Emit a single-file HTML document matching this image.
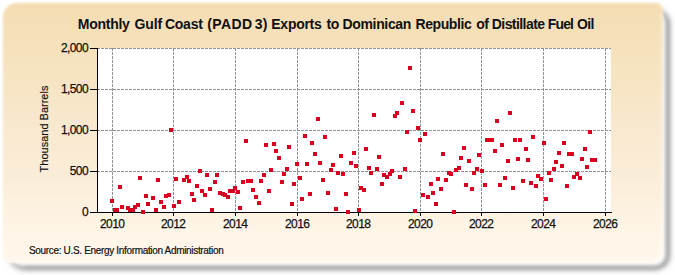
<!DOCTYPE html>
<html><head><meta charset="utf-8"><style>
html,body{margin:0;padding:0;background:#fff;}
body{width:675px;height:275px;position:relative;overflow:hidden;font-family:"Liberation Sans",sans-serif;}
#frame{position:absolute;left:3px;top:3px;width:660px;height:260px;border-radius:14px 7px 14px 7px;filter:blur(0.9px);
 background:linear-gradient(to bottom,rgb(244,221,178) 0%,rgb(245,222,180) 3%,rgb(246,226,190) 21%,rgb(249,233,208) 50%,rgb(251,238,218) 70%,rgb(255,246,232) 89%,rgb(255,247,236) 100%);
 box-shadow:inset -3px -3px 3px rgba(255,255,255,0.2);}
#shadow{position:absolute;left:9px;top:9px;width:660px;height:260px;border-radius:14px;box-sizing:border-box;
 border:3px solid rgba(90,90,90,0.75);box-shadow:0 0 4px 1px rgba(90,90,90,0.45);filter:blur(2.1px);}
#shwrap{position:absolute;left:0;top:0;width:675px;height:275px;-webkit-mask-image:linear-gradient(to right,rgba(0,0,0,0.35) 0px,#000 28px),linear-gradient(to bottom,rgba(0,0,0,0.35) 0px,#000 22px);-webkit-mask-composite:source-in;mask-composite:intersect;}
#title span{position:absolute;top:0;}
#title{position:absolute;left:0;top:16px;width:675px;font-weight:bold;font-size:14px;letter-spacing:-0.27px;color:#111;white-space:nowrap;}
#plot{position:absolute;left:97px;top:48px;width:514px;height:164px;background:#fff;}
svg{position:absolute;left:0;top:0;}
.yl{position:absolute;left:30px;width:58px;text-align:right;font-size:12px;letter-spacing:-0.6px;line-height:14px;color:#111;-webkit-text-stroke:0.25px #111;}
.xl{position:absolute;top:217px;width:40px;text-align:center;font-size:12px;letter-spacing:-0.6px;text-indent:-0.6px;line-height:14px;color:#111;-webkit-text-stroke:0.25px #111;}
#ytitle{position:absolute;left:44px;top:129px;transform:translate(-50%,-50%) rotate(-90deg);font-size:11px;line-height:12px;color:#111;-webkit-text-stroke:0.15px #111;white-space:nowrap;}
#src{position:absolute;left:29px;top:244.6px;font-size:10px;line-height:12px;color:#111;-webkit-text-stroke:0.2px #111;white-space:nowrap;letter-spacing:-0.33px;}
</style></head><body>
<div id="shwrap"><div id="shadow"></div></div>
<div id="frame"></div>
<div id="title"><span style="left:77.80px;letter-spacing:-0.27px">Monthly</span> <span style="left:134.50px;letter-spacing:-0.12px">Gulf</span> <span style="left:165.00px;letter-spacing:-0.27px">Coast</span> <span style="left:207.20px;letter-spacing:0.43px">(PADD</span> <span style="left:254.80px;letter-spacing:0.23px">3)</span> <span style="left:271.30px;letter-spacing:-0.27px">Exports</span> <span style="left:326.40px;letter-spacing:-0.27px">to</span> <span style="left:342.50px;letter-spacing:-0.34px">Dominican</span> <span style="left:415.50px;letter-spacing:-0.41px">Republic</span> <span style="left:476.20px;letter-spacing:-0.57px">of</span> <span style="left:491.80px;letter-spacing:-0.57px">Distillate</span> <span style="left:547.80px;letter-spacing:-0.87px">Fuel</span> <span style="left:576.90px;letter-spacing:-0.57px">Oil</span></div>
<div id="plot"></div>
<svg width="675" height="275" viewBox="0 0 675 275">
<g stroke="#939393" stroke-width="1" stroke-dasharray="3,1" shape-rendering="crispEdges">
<line x1="97" y1="48.5" x2="611" y2="48.5"/>
<line x1="97" y1="89.5" x2="611" y2="89.5"/>
<line x1="97" y1="130.5" x2="611" y2="130.5"/>
<line x1="97" y1="171.5" x2="611" y2="171.5"/>
<line x1="112.5" y1="48" x2="112.5" y2="212"/>
<line x1="173.5" y1="48" x2="173.5" y2="212"/>
<line x1="235.5" y1="48" x2="235.5" y2="212"/>
<line x1="297.5" y1="48" x2="297.5" y2="212"/>
<line x1="358.5" y1="48" x2="358.5" y2="212"/>
<line x1="420.5" y1="48" x2="420.5" y2="212"/>
<line x1="481.5" y1="48" x2="481.5" y2="212"/>
<line x1="543.5" y1="48" x2="543.5" y2="212"/>
<line x1="605.5" y1="48" x2="605.5" y2="212"/>
</g>
<g stroke="#000" stroke-width="1" shape-rendering="crispEdges">
<line x1="97.5" y1="48" x2="97.5" y2="213"/>
<line x1="90" y1="212.5" x2="612" y2="212.5"/>
<line x1="90" y1="48.5" x2="97" y2="48.5"/>
<line x1="90" y1="89.5" x2="97" y2="89.5"/>
<line x1="90" y1="130.5" x2="97" y2="130.5"/>
<line x1="90" y1="171.5" x2="97" y2="171.5"/>
<line x1="90" y1="212.5" x2="97" y2="212.5"/>
<line x1="112.5" y1="212" x2="112.5" y2="216"/>
<line x1="173.5" y1="212" x2="173.5" y2="216"/>
<line x1="235.5" y1="212" x2="235.5" y2="216"/>
<line x1="297.5" y1="212" x2="297.5" y2="216"/>
<line x1="358.5" y1="212" x2="358.5" y2="216"/>
<line x1="420.5" y1="212" x2="420.5" y2="216"/>
<line x1="481.5" y1="212" x2="481.5" y2="216"/>
<line x1="543.5" y1="212" x2="543.5" y2="216"/>
<line x1="605.5" y1="212" x2="605.5" y2="216"/>
</g>
<g fill="#d8001e" shape-rendering="crispEdges">
<rect x="110" y="199" width="4" height="4"/>
<rect x="113" y="208" width="4" height="4"/>
<rect x="115" y="208" width="4" height="4"/>
<rect x="118" y="185" width="4" height="4"/>
<rect x="120" y="205" width="4" height="4"/>
<rect x="126" y="206" width="4" height="4"/>
<rect x="128" y="208" width="4" height="4"/>
<rect x="131" y="208" width="4" height="4"/>
<rect x="133" y="205" width="4" height="4"/>
<rect x="136" y="203" width="4" height="4"/>
<rect x="138" y="176" width="4" height="4"/>
<rect x="141" y="210" width="4" height="4"/>
<rect x="144" y="194" width="4" height="4"/>
<rect x="146" y="202" width="4" height="4"/>
<rect x="151" y="196" width="4" height="4"/>
<rect x="154" y="208" width="4" height="4"/>
<rect x="156" y="178" width="4" height="4"/>
<rect x="159" y="200" width="4" height="4"/>
<rect x="162" y="205" width="4" height="4"/>
<rect x="164" y="194" width="4" height="4"/>
<rect x="167" y="193" width="4" height="4"/>
<rect x="169" y="128" width="4" height="4"/>
<rect x="172" y="204" width="4" height="4"/>
<rect x="174" y="177" width="4" height="4"/>
<rect x="177" y="200" width="4" height="4"/>
<rect x="182" y="178" width="4" height="4"/>
<rect x="185" y="175" width="4" height="4"/>
<rect x="187" y="179" width="4" height="4"/>
<rect x="190" y="192" width="4" height="4"/>
<rect x="192" y="198" width="4" height="4"/>
<rect x="195" y="184" width="4" height="4"/>
<rect x="198" y="169" width="4" height="4"/>
<rect x="200" y="189" width="4" height="4"/>
<rect x="203" y="193" width="4" height="4"/>
<rect x="205" y="173" width="4" height="4"/>
<rect x="208" y="187" width="4" height="4"/>
<rect x="210" y="208" width="4" height="4"/>
<rect x="213" y="180" width="4" height="4"/>
<rect x="215" y="173" width="4" height="4"/>
<rect x="218" y="191" width="4" height="4"/>
<rect x="221" y="192" width="4" height="4"/>
<rect x="223" y="193" width="4" height="4"/>
<rect x="226" y="195" width="4" height="4"/>
<rect x="228" y="189" width="4" height="4"/>
<rect x="231" y="189" width="4" height="4"/>
<rect x="233" y="186" width="4" height="4"/>
<rect x="236" y="190" width="4" height="4"/>
<rect x="238" y="206" width="4" height="4"/>
<rect x="241" y="180" width="4" height="4"/>
<rect x="244" y="139" width="4" height="4"/>
<rect x="246" y="179" width="4" height="4"/>
<rect x="249" y="179" width="4" height="4"/>
<rect x="251" y="188" width="4" height="4"/>
<rect x="254" y="195" width="4" height="4"/>
<rect x="257" y="201" width="4" height="4"/>
<rect x="259" y="179" width="4" height="4"/>
<rect x="262" y="173" width="4" height="4"/>
<rect x="264" y="143" width="4" height="4"/>
<rect x="267" y="189" width="4" height="4"/>
<rect x="269" y="168" width="4" height="4"/>
<rect x="272" y="142" width="4" height="4"/>
<rect x="274" y="149" width="4" height="4"/>
<rect x="277" y="156" width="4" height="4"/>
<rect x="280" y="180" width="4" height="4"/>
<rect x="282" y="172" width="4" height="4"/>
<rect x="285" y="167" width="4" height="4"/>
<rect x="287" y="145" width="4" height="4"/>
<rect x="290" y="202" width="4" height="4"/>
<rect x="292" y="182" width="4" height="4"/>
<rect x="295" y="162" width="4" height="4"/>
<rect x="298" y="176" width="4" height="4"/>
<rect x="300" y="197" width="4" height="4"/>
<rect x="303" y="134" width="4" height="4"/>
<rect x="305" y="162" width="4" height="4"/>
<rect x="308" y="192" width="4" height="4"/>
<rect x="310" y="141" width="4" height="4"/>
<rect x="313" y="152" width="4" height="4"/>
<rect x="316" y="117" width="4" height="4"/>
<rect x="318" y="161" width="4" height="4"/>
<rect x="321" y="178" width="4" height="4"/>
<rect x="323" y="135" width="4" height="4"/>
<rect x="326" y="191" width="4" height="4"/>
<rect x="329" y="168" width="4" height="4"/>
<rect x="331" y="163" width="4" height="4"/>
<rect x="334" y="207" width="4" height="4"/>
<rect x="336" y="171" width="4" height="4"/>
<rect x="339" y="154" width="4" height="4"/>
<rect x="341" y="172" width="4" height="4"/>
<rect x="344" y="192" width="4" height="4"/>
<rect x="346" y="210" width="4" height="4"/>
<rect x="349" y="161" width="4" height="4"/>
<rect x="352" y="151" width="4" height="4"/>
<rect x="354" y="164" width="4" height="4"/>
<rect x="357" y="208" width="4" height="4"/>
<rect x="359" y="186" width="4" height="4"/>
<rect x="362" y="188" width="4" height="4"/>
<rect x="364" y="147" width="4" height="4"/>
<rect x="367" y="166" width="4" height="4"/>
<rect x="369" y="171" width="4" height="4"/>
<rect x="372" y="113" width="4" height="4"/>
<rect x="375" y="167" width="4" height="4"/>
<rect x="377" y="155" width="4" height="4"/>
<rect x="380" y="182" width="4" height="4"/>
<rect x="382" y="173" width="4" height="4"/>
<rect x="385" y="175" width="4" height="4"/>
<rect x="388" y="172" width="4" height="4"/>
<rect x="390" y="169" width="4" height="4"/>
<rect x="393" y="114" width="4" height="4"/>
<rect x="395" y="111" width="4" height="4"/>
<rect x="398" y="175" width="4" height="4"/>
<rect x="400" y="101" width="4" height="4"/>
<rect x="403" y="167" width="4" height="4"/>
<rect x="405" y="130" width="4" height="4"/>
<rect x="408" y="66" width="4" height="4"/>
<rect x="411" y="109" width="4" height="4"/>
<rect x="413" y="209" width="4" height="4"/>
<rect x="416" y="126" width="4" height="4"/>
<rect x="418" y="138" width="4" height="4"/>
<rect x="421" y="193" width="4" height="4"/>
<rect x="423" y="132" width="4" height="4"/>
<rect x="426" y="195" width="4" height="4"/>
<rect x="429" y="182" width="4" height="4"/>
<rect x="431" y="191" width="4" height="4"/>
<rect x="434" y="202" width="4" height="4"/>
<rect x="436" y="177" width="4" height="4"/>
<rect x="439" y="187" width="4" height="4"/>
<rect x="441" y="152" width="4" height="4"/>
<rect x="444" y="178" width="4" height="4"/>
<rect x="447" y="171" width="4" height="4"/>
<rect x="449" y="172" width="4" height="4"/>
<rect x="452" y="210" width="4" height="4"/>
<rect x="454" y="168" width="4" height="4"/>
<rect x="457" y="166" width="4" height="4"/>
<rect x="459" y="156" width="4" height="4"/>
<rect x="462" y="146" width="4" height="4"/>
<rect x="464" y="183" width="4" height="4"/>
<rect x="467" y="159" width="4" height="4"/>
<rect x="470" y="187" width="4" height="4"/>
<rect x="472" y="171" width="4" height="4"/>
<rect x="475" y="167" width="4" height="4"/>
<rect x="477" y="153" width="4" height="4"/>
<rect x="480" y="169" width="4" height="4"/>
<rect x="483" y="183" width="4" height="4"/>
<rect x="485" y="138" width="4" height="4"/>
<rect x="488" y="138" width="4" height="4"/>
<rect x="490" y="138" width="4" height="4"/>
<rect x="493" y="149" width="4" height="4"/>
<rect x="495" y="119" width="4" height="4"/>
<rect x="498" y="183" width="4" height="4"/>
<rect x="500" y="143" width="4" height="4"/>
<rect x="503" y="176" width="4" height="4"/>
<rect x="506" y="159" width="4" height="4"/>
<rect x="508" y="111" width="4" height="4"/>
<rect x="511" y="186" width="4" height="4"/>
<rect x="513" y="138" width="4" height="4"/>
<rect x="516" y="157" width="4" height="4"/>
<rect x="518" y="138" width="4" height="4"/>
<rect x="521" y="179" width="4" height="4"/>
<rect x="524" y="147" width="4" height="4"/>
<rect x="526" y="158" width="4" height="4"/>
<rect x="529" y="181" width="4" height="4"/>
<rect x="531" y="135" width="4" height="4"/>
<rect x="534" y="184" width="4" height="4"/>
<rect x="536" y="174" width="4" height="4"/>
<rect x="539" y="177" width="4" height="4"/>
<rect x="542" y="141" width="4" height="4"/>
<rect x="544" y="197" width="4" height="4"/>
<rect x="547" y="171" width="4" height="4"/>
<rect x="549" y="178" width="4" height="4"/>
<rect x="552" y="167" width="4" height="4"/>
<rect x="554" y="160" width="4" height="4"/>
<rect x="557" y="151" width="4" height="4"/>
<rect x="560" y="164" width="4" height="4"/>
<rect x="562" y="141" width="4" height="4"/>
<rect x="565" y="184" width="4" height="4"/>
<rect x="567" y="152" width="4" height="4"/>
<rect x="570" y="152" width="4" height="4"/>
<rect x="572" y="175" width="4" height="4"/>
<rect x="575" y="172" width="4" height="4"/>
<rect x="578" y="176" width="4" height="4"/>
<rect x="580" y="157" width="4" height="4"/>
<rect x="583" y="147" width="4" height="4"/>
<rect x="585" y="165" width="4" height="4"/>
<rect x="588" y="130" width="4" height="4"/>
<rect x="590" y="158" width="4" height="4"/>
<rect x="593" y="158" width="4" height="4"/>
</g>
</svg>
<div class="yl" style="top:41px">2,000</div>
<div class="yl" style="top:82px">1,500</div>
<div class="yl" style="top:123px">1,000</div>
<div class="yl" style="top:164px">500</div>
<div class="yl" style="top:205px">0</div>
<div class="xl" style="left:92.5px">2010</div>
<div class="xl" style="left:153.5px">2012</div>
<div class="xl" style="left:215.5px">2014</div>
<div class="xl" style="left:277.5px">2016</div>
<div class="xl" style="left:338.5px">2018</div>
<div class="xl" style="left:400.5px">2020</div>
<div class="xl" style="left:461.5px">2022</div>
<div class="xl" style="left:523.5px">2024</div>
<div class="xl" style="left:585.5px">2026</div>
<div id="ytitle">Thousand Barrels</div>
<div id="src">Source: U.S. Energy Information Administration</div>
</body></html>
